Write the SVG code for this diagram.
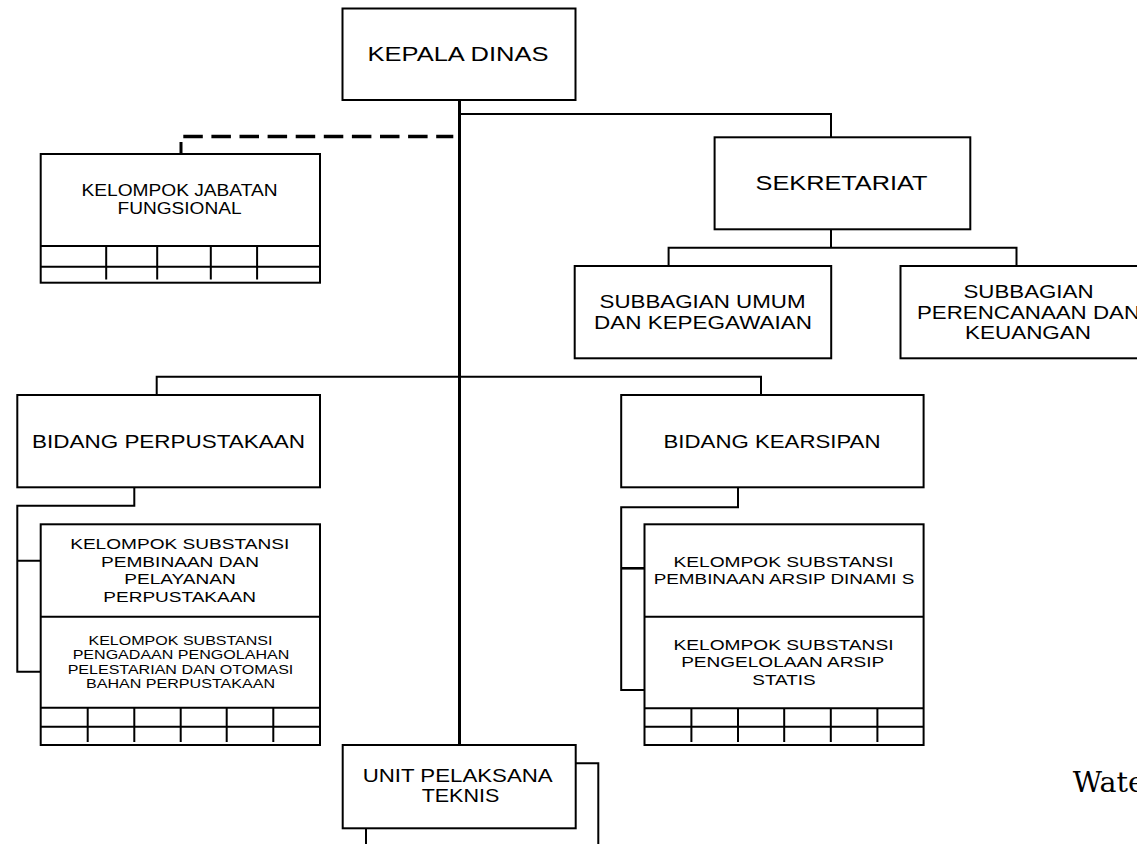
<svg xmlns="http://www.w3.org/2000/svg" width="1137" height="844" viewBox="0 0 1137 844">
<style>
.box{fill:#fff;stroke:#000;stroke-width:2}
.ln{fill:none;stroke:#000;stroke-width:2}
.thick{fill:none;stroke:#000;stroke-width:3}
.dash{fill:none;stroke:#000;stroke-width:3.5;stroke-dasharray:19.5 8.6}
text{font-family:"Liberation Sans",Arial,sans-serif;fill:#000;text-anchor:middle}
.f20{font-size:20px}.f21{font-size:21px}.f18{font-size:18.5px}.f17{font-size:17.5px}.f16{font-size:16px}.f15{font-size:15px}.f13{font-size:13px}
.wm{font-family:"DejaVu Serif",serif;font-size:28.5px;text-anchor:start}
</style>
<rect x="0" y="0" width="1137" height="844" fill="#fff"/>
<g id="connectors">
<path class="thick" d="M459.5 100V745"/>
<path class="dash" d="M183.3 136.5H453.3"/>
<path class="thick" d="M181 142V156"/>
<path class="ln" d="M459.5 114H831V137.3"/>
<path class="ln" d="M831 229.3V247.7M668.6 266V247.7H1016.5V266"/>
<path class="ln" d="M156.7 395V376.7H761V395"/>
<path class="ln" d="M134.3 487.3V505.7H17.3V671.7H40.7M17.3 560.7H40.7"/>
<path class="ln" d="M738 487.3V507.3H621.2V690H644.5"/>
<path class="ln" style="stroke-width:2.6" d="M621.2 568.3H644.5"/>
<path class="ln" d="M575.7 763.3H598.3V844M366 828.3V844"/>
</g>
<g id="kepala-dinas">
<rect class="box" x="342.5" y="8.5" width="233" height="91.5"/>
<text class="f20" x="458" y="61" textLength="181" lengthAdjust="spacingAndGlyphs">KEPALA DINAS</text>
</g>
<g id="kelompok-jabatan-fungsional">
<rect class="box" x="40.7" y="154" width="279.3" height="128.7"/>
<path class="ln" d="M40.7 246H320M40.7 266.7H320M106.2 246V279.5M157.2 246V279.5M210.8 246V279.5M257.1 246V279.5"/>
<text class="f16" x="179.5" y="196" textLength="196" lengthAdjust="spacingAndGlyphs">KELOMPOK JABATAN</text>
<text class="f16" x="179.5" y="214" textLength="124" lengthAdjust="spacingAndGlyphs">FUNGSIONAL</text>
</g>
<g id="sekretariat">
<rect class="box" x="714.6" y="137.3" width="255.7" height="92"/>
<text class="f21" x="841.5" y="190" textLength="172" lengthAdjust="spacingAndGlyphs">SEKRETARIAT</text>
</g>
<g id="subbagian-umum">
<rect class="box" x="574.7" y="266" width="256.5" height="92.3"/>
<text class="f17" x="702.5" y="308.3" textLength="206" lengthAdjust="spacingAndGlyphs">SUBBAGIAN UMUM</text>
<text class="f17" x="703" y="329" textLength="218" lengthAdjust="spacingAndGlyphs">DAN KEPEGAWAIAN</text>
</g>
<g id="subbagian-perencanaan">
<rect class="box" x="900.5" y="266" width="260" height="92.3"/>
<text class="f17" x="1028.5" y="298" textLength="130" lengthAdjust="spacingAndGlyphs">SUBBAGIAN</text>
<text class="f17" x="1028.5" y="318.5" textLength="223" lengthAdjust="spacingAndGlyphs">PERENCANAAN DAN</text>
<text class="f17" x="1028" y="338.5" textLength="126" lengthAdjust="spacingAndGlyphs">KEUANGAN</text>
</g>
<g id="bidang-perpustakaan">
<rect class="box" x="17.3" y="395" width="302.7" height="92.3"/>
<text class="f18" x="168.5" y="448.3" textLength="273" lengthAdjust="spacingAndGlyphs">BIDANG PERPUSTAKAAN</text>
</g>
<g id="kelompok-perpustakaan">
<rect class="box" x="40.7" y="524.3" width="279.3" height="220.7"/>
<path class="ln" d="M40.7 616.7H320M40.7 707.7H320M40.7 726.7H320M87.7 707.7V742M134.3 707.7V742M180.7 707.7V742M226.7 707.7V742M273.3 707.7V742"/>
<text class="f15" x="179.7" y="549" textLength="219" lengthAdjust="spacingAndGlyphs">KELOMPOK SUBSTANSI</text>
<text class="f15" x="180" y="566.7" textLength="158" lengthAdjust="spacingAndGlyphs">PEMBINAAN DAN</text>
<text class="f15" x="180" y="584" textLength="111.5" lengthAdjust="spacingAndGlyphs">PELAYANAN</text>
<text class="f15" x="179.7" y="601.7" textLength="152.7" lengthAdjust="spacingAndGlyphs">PERPUSTAKAAN</text>
<text class="f13" x="180.5" y="645" textLength="184" lengthAdjust="spacingAndGlyphs">KELOMPOK SUBSTANSI</text>
<text class="f13" x="181" y="659.3" textLength="216.7" lengthAdjust="spacingAndGlyphs">PENGADAAN PENGOLAHAN</text>
<text class="f13" x="180.5" y="674" textLength="225.7" lengthAdjust="spacingAndGlyphs">PELESTARIAN DAN OTOMASI</text>
<text class="f13" x="180.5" y="688.3" textLength="189" lengthAdjust="spacingAndGlyphs">BAHAN PERPUSTAKAAN</text>
</g>
<g id="bidang-kearsipan">
<rect class="box" x="621.2" y="395" width="302.4" height="92.3"/>
<text class="f18" x="772" y="448.3" textLength="217" lengthAdjust="spacingAndGlyphs">BIDANG KEARSIPAN</text>
</g>
<g id="kelompok-kearsipan">
<rect class="box" x="644.5" y="524.3" width="279.1" height="220.7"/>
<path class="ln" d="M644.5 616.7H923.6M644.5 708.3H923.6M644.5 726.7H923.6M691.4 708.3V742M738 708.3V742M784.2 708.3V742M830.8 708.3V742M877.4 708.3V742"/>
<text class="f15" x="783.5" y="566.7" textLength="220" lengthAdjust="spacingAndGlyphs">KELOMPOK SUBSTANSI</text>
<text class="f15" x="784" y="584" textLength="260.6" lengthAdjust="spacingAndGlyphs">PEMBINAAN ARSIP DINAMI S</text>
<text class="f15" x="783.5" y="650" textLength="220" lengthAdjust="spacingAndGlyphs">KELOMPOK SUBSTANSI</text>
<text class="f15" x="782.7" y="667.3" textLength="203" lengthAdjust="spacingAndGlyphs">PENGELOLAAN ARSIP</text>
<text class="f15" x="784" y="685" textLength="63.4" lengthAdjust="spacingAndGlyphs">STATIS</text>
</g>
<g id="unit-pelaksana-teknis">
<rect class="box" x="342.7" y="745" width="233" height="83.3"/>
<text class="f17" x="457.7" y="781.7" textLength="190" lengthAdjust="spacingAndGlyphs">UNIT PELAKSANA</text>
<text class="f17" x="460.5" y="801.7" textLength="77.7" lengthAdjust="spacingAndGlyphs">TEKNIS</text>
</g>
<text class="wm" x="1072.7" y="791.7">Wate</text>
</svg>
